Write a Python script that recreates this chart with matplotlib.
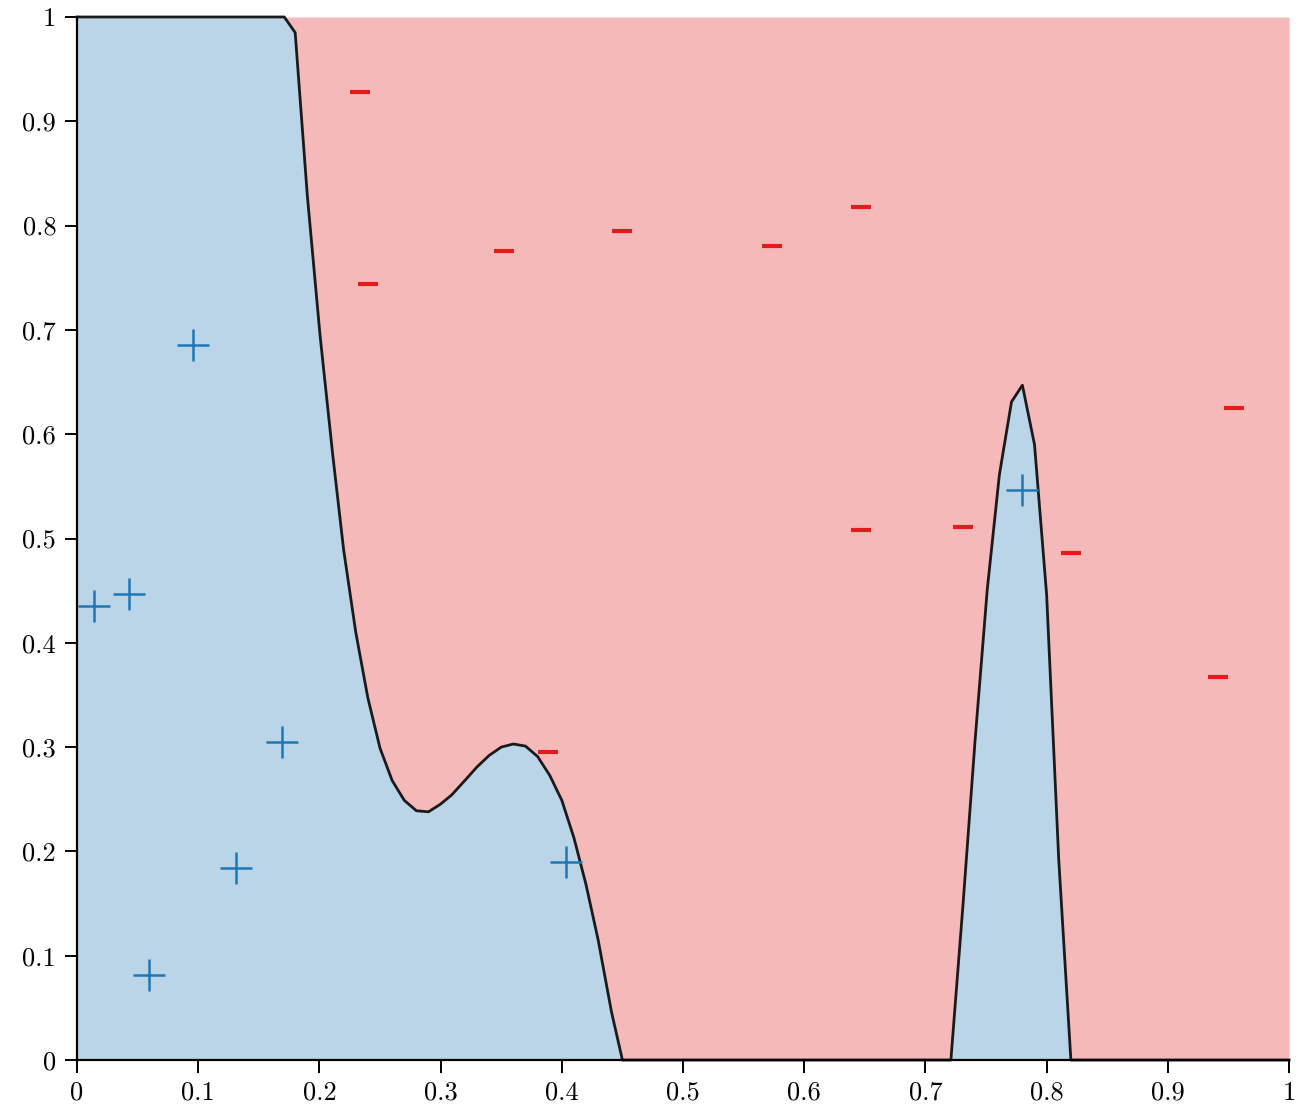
import matplotlib.pyplot as plt
import numpy as np

plt.rcParams['font.family'] = ['cmr10', 'DejaVu Serif']
plt.rcParams['axes.formatter.use_mathtext'] = True

# decision boundary (y as a function of x)
bx = [0.0, 0.171, 0.180, 0.190, 0.2005, 0.211, 0.220, 0.230, 0.240, 0.250,
      0.260, 0.270, 0.280, 0.290, 0.2995, 0.309, 0.320, 0.330, 0.340, 0.350,
      0.360, 0.370, 0.380, 0.390, 0.400, 0.410, 0.420, 0.430, 0.441, 0.450,
      0.721, 0.731, 0.741, 0.751, 0.761, 0.771, 0.780, 0.790, 0.800, 0.810,
      0.820, 1.0]
by = [1.0, 1.0, 0.985, 0.829, 0.695, 0.580, 0.489, 0.410, 0.347, 0.299,
      0.268, 0.249, 0.239, 0.238, 0.245, 0.254, 0.268, 0.281, 0.292, 0.300,
      0.303, 0.301, 0.291, 0.273, 0.249, 0.213, 0.168, 0.115, 0.046, 0.0,
      0.0, 0.149, 0.307, 0.451, 0.561, 0.631, 0.647, 0.590, 0.446, 0.192,
      0.0, 0.0]

# positive samples
pos_x = [0.0957, 0.014, 0.043, 0.169, 0.131, 0.0594, 0.4035, 0.780]
pos_y = [0.686, 0.435, 0.447, 0.305, 0.184, 0.0815, 0.190, 0.5465]

# negative samples
neg_x = [0.2335, 0.240, 0.352, 0.450, 0.573, 0.647, 0.647, 0.731, 0.820,
         0.9546, 0.941, 0.3886]
neg_y = [0.928, 0.744, 0.776, 0.795, 0.780, 0.818, 0.508, 0.511, 0.486,
         0.625, 0.367, 0.295]

ticks = [0, 0.1, 0.2, 0.3, 0.4, 0.5, 0.6, 0.7, 0.8, 0.9, 1]
tick_labels = ['0', '0.1', '0.2', '0.3', '0.4', '0.5', '0.6', '0.7', '0.8', '0.9', '1']

blue = '#1f77b4'
red = '#e41a1c'

fig = plt.figure(figsize=(13.12, 11.10), dpi=100)
ax = fig.add_axes([0.0587, 0.045, 0.9238, 0.9397])

ax.fill_between(bx, 0, by, color=blue, alpha=0.3, linewidth=0)
ax.fill_between(bx, by, 1, color=red, alpha=0.3, linewidth=0)
ax.plot(bx, by, color='#1a1a1a', linewidth=2, clip_on=False)

ax.plot(pos_x, pos_y, '+', color=blue, markersize=23, markeredgewidth=1.8,
        linestyle='none')
ax.plot(neg_x, neg_y, '_', color=red, markersize=15, markeredgewidth=3,
        linestyle='none')

ax.set_xlim(0, 1)
ax.set_ylim(0, 1)
ax.set_xticks(ticks)
ax.set_xticklabels(tick_labels)
ax.set_yticks(ticks)
ax.set_yticklabels(tick_labels)
ax.tick_params(labelsize=19, length=9, width=1.4, direction='out', pad=6)
ax.spines['top'].set_visible(False)
ax.spines['right'].set_visible(False)
ax.spines['left'].set_linewidth(1.6)
ax.spines['bottom'].set_linewidth(1.6)

plt.savefig('out.png', dpi=100)
